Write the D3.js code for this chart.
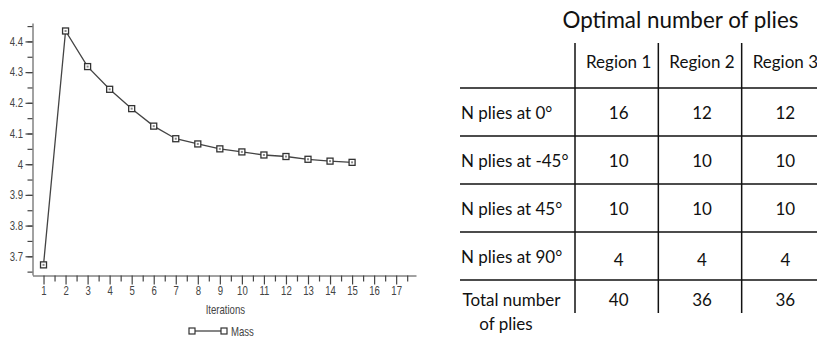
<!DOCTYPE html>
<html><head><meta charset="utf-8">
<script src="https://cdn.jsdelivr.net/npm/d3@7"></script>
<style>
body{margin:0;background:#fff;}
svg{display:block;}
.ax text{font-family:"Liberation Sans",Arial,sans-serif;font-size:12px;fill:#444;}
.ax path,.ax line{stroke:#444;}
.tb text{font-family:Lato,"Open Sans",sans-serif;fill:#111;}
</style></head>
<body>
<svg id="c" width="817" height="337"></svg>
<script>
// ---- data ----
const iterations = [1,2,3,4,5,6,7,8,9,10,11,12,13,14,15];
const mass = [3.672,4.434,4.318,4.244,4.181,4.124,4.083,4.066,4.050,4.040,4.030,4.025,4.016,4.010,4.006];
const yTicks = [3.7,3.8,3.9,4,4.1,4.2,4.3,4.4];
const xTicks = [1,2,3,4,5,6,7,8,9,10,11,12,13,14,15,16,17];
const seriesName = "Mass";
const xTitle = "Iterations";

const tableTitle = "Optimal number of plies";
const regions = ["Region 1","Region 2","Region 3"];
const rowLabels = ["N plies at 0°","N plies at -45°","N plies at 45°","N plies at 90°","Total number|of plies"];
const region1 = [16,10,10,4,40];
const region2 = [12,10,10,4,36];
const region3 = [12,10,10,4,36];

// ---- chart ----
const svg = d3.select("#c");
const x = d3.scaleLinear().domain([0.5,17.9]).range([32.5,416]);
const y = d3.scaleLinear().domain([3.639,4.46]).range([275,23]);
const SX = 0.8;

const minorY = d3.range(3.65,4.46,0.05).map(v=>+v.toFixed(2));
const minorX = d3.range(1,18,1).map(v=>v+0.5);

const gy = svg.append("g").attr("class","ax").attr("transform","translate(32.5,0)");
gy.append("g").call(d3.axisLeft(y).tickValues(minorY).tickSize(5).tickFormat("")).select(".domain").remove();
gy.append("g").call(d3.axisLeft(y).tickValues(yTicks).tickSize(7).tickSizeOuter(0).tickFormat(d3.format("~g")));
gy.selectAll("line").attr("stroke-width",1.2);
gy.selectAll("text").attr("x",-9.5/SX).attr("transform",`scale(${SX},1)`);

const gx = svg.append("g").attr("class","ax").attr("transform","translate(0,275.5)");
gx.append("g").call(d3.axisBottom(x).tickValues(minorX).tickSize(6).tickFormat("")).select(".domain").remove();
gx.append("g").call(d3.axisBottom(x).tickValues(xTicks).tickSize(9).tickSizeOuter(0).tickPadding(2).tickFormat(d3.format("d")));
gx.selectAll("line").attr("stroke-width",1.2);
gx.selectAll("text").attr("transform",`scale(${SX},1)`);

const lblFont = '"Liberation Sans",Arial,sans-serif';
svg.append("text").attr("transform",`translate(${x(9.25)},314) scale(${SX},1)`)
  .attr("text-anchor","middle").style("font-family",lblFont)
  .style("font-size","12px").style("fill","#444").text(xTitle);

const pts = iterations.map((d,i)=>[d,mass[i]]);
svg.append("path").datum(pts).attr("fill","none").attr("stroke","#444").attr("stroke-width",1.3)
  .attr("d",d3.line().x(d=>x(d[0])).y(d=>y(d[1])));
const mk = svg.append("g").selectAll("g").data(pts).join("g")
  .attr("transform",d=>`translate(${x(d[0])},${y(d[1])})`);
mk.append("rect").attr("x",-3).attr("y",-3).attr("width",6).attr("height",6)
  .attr("fill","#fff").attr("stroke","#333").attr("stroke-width",1.3);
mk.append("rect").attr("x",-1).attr("y",-1).attr("width",2).attr("height",2).attr("fill","#888");

// legend
const lg = svg.append("g").attr("transform","translate(192,331)");
lg.append("line").attr("x1",0).attr("x2",32).attr("stroke","#444").attr("stroke-width",1.3);
[0,32].forEach(px=>{
  lg.append("rect").attr("x",px-3).attr("y",-3).attr("width",6).attr("height",6).attr("fill","#fff").attr("stroke","#333").attr("stroke-width",1.2);
});
lg.append("text").attr("transform",`translate(39,4.5) scale(${SX},1)`).style("font-family",lblFont)
  .style("font-size","12px").style("fill","#444").text(seriesName);

// ---- table ----
const tb = svg.append("g").attr("class","tb");
tb.append("text").attr("x",680.5).attr("y",28).attr("text-anchor","middle").style("font-size","22.4px").text(tableTitle);

const rows = ["header"].concat(rowLabels);
const ry = d3.scaleBand().domain(rows).range([40,328]);
const cx = d3.scaleBand().domain(regions).range([575,825]);
const FS = "17px";

rowLabels.forEach(r=>{
  tb.append("line").attr("x1",460).attr("x2",817).attr("y1",ry(r)).attr("y2",ry(r)).attr("stroke","#111").attr("stroke-width",1.5);
});
regions.forEach(r=>{
  tb.append("line").attr("x1",cx(r)).attr("x2",cx(r)).attr("y1",43).attr("y2",313).attr("stroke","#111").attr("stroke-width",1.5);
});
regions.forEach(r=>{
  tb.append("text").attr("x",cx(r)+cx.bandwidth()/2+2).attr("y",ry("header")+ry.bandwidth()/2+4)
    .attr("text-anchor","middle").style("font-size",FS).text(r);
});
const cols = [region1,region2,region3];
rowLabels.forEach((lab,i)=>{
  const cyy = ry(lab)+ry.bandwidth()/2;
  const parts = lab.split("|");
  if(parts.length===1){
    tb.append("text").attr("x",461).attr("y",cyy+7).style("font-size",FS).text(lab);
  } else {
    tb.append("text").attr("x",511.5).attr("y",cyy+2).attr("text-anchor","middle").style("font-size",FS).text(parts[0]);
    tb.append("text").attr("x",506).attr("y",cyy+26).attr("text-anchor","middle").style("font-size",FS).text(parts[1]);
  }
  regions.forEach((r,j)=>{
    tb.append("text").attr("x",cx(r)+cx.bandwidth()/2+2).attr("y",cyy+(i===3?10:(i===4?2:7)))
      .attr("text-anchor","middle").style("font-size",FS).text(cols[j][i]);
  });
});
</script>
</body></html>
